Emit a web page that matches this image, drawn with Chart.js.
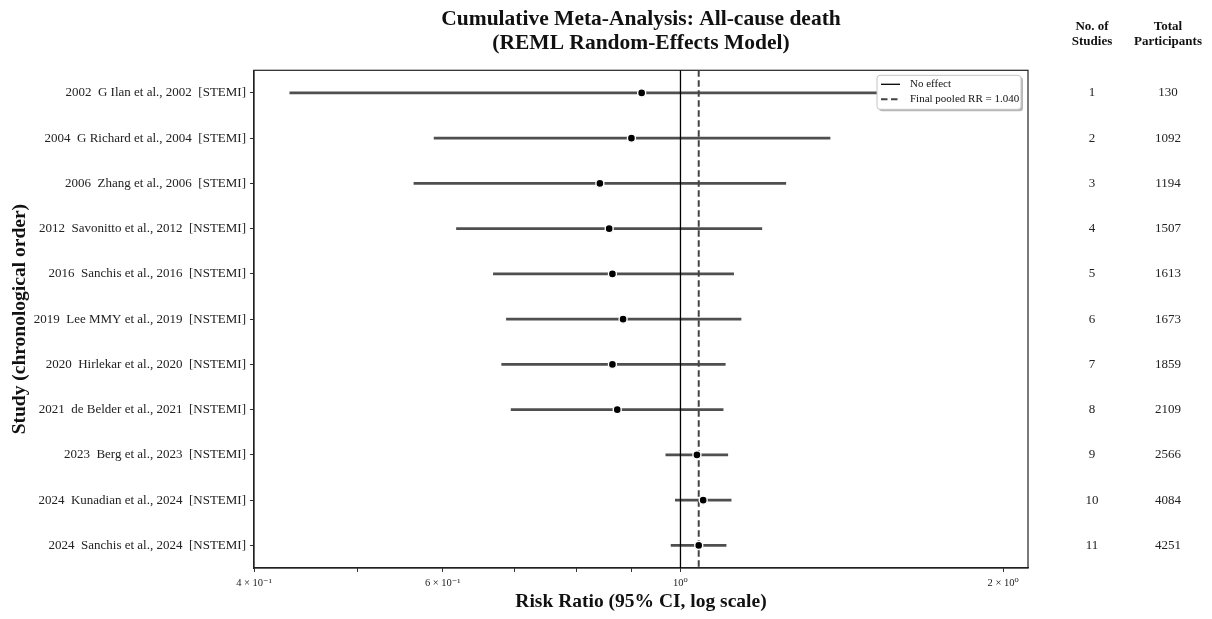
<!DOCTYPE html>
<html>
<head>
<meta charset="utf-8">
<title>Cumulative Meta-Analysis</title>
<script src="https://cdn.jsdelivr.net/npm/chart.js@4.4.1/dist/chart.umd.min.js"></script>
<style>
  html, body { margin: 0; padding: 0; background: #fff; }
</style>
</head>
<body>
<canvas id="forest" width="1212" height="619"></canvas>
<script>
// studies in chronological order, each row pools every study up to it
const studyLabels = [
  '2002  G Ilan et al., 2002  [STEMI]',
  '2004  G Richard et al., 2004  [STEMI]',
  '2006  Zhang et al., 2006  [STEMI]',
  '2012  Savonitto et al., 2012  [NSTEMI]',
  '2016  Sanchis et al., 2016  [NSTEMI]',
  '2019  Lee MMY et al., 2019  [NSTEMI]',
  '2020  Hirlekar et al., 2020  [NSTEMI]',
  '2021  de Belder et al., 2021  [NSTEMI]',
  '2023  Berg et al., 2023  [NSTEMI]',
  '2024  Kunadian et al., 2024  [NSTEMI]',
  '2024  Sanchis et al., 2024  [NSTEMI]'
];
const pooledRR = [0.920, 0.900, 0.841, 0.858, 0.864, 0.884, 0.864, 0.873, 1.036, 1.050, 1.040];
const ciLower  = [0.432, 0.589, 0.564, 0.618, 0.669, 0.688, 0.681, 0.695, 0.969, 0.989, 0.980];
const ciUpper  = [1.920, 1.379, 1.254, 1.191, 1.121, 1.139, 1.101, 1.096, 1.107, 1.115, 1.103];
const studyCounts = [1, 2, 3, 4, 5, 6, 7, 8, 9, 10, 11];
const totalParticipants = [130, 1092, 1194, 1507, 1613, 1673, 1859, 2109, 2566, 4084, 4251];
const finalRR = 1.040;

const xTickValues = [0.4, 0.5, 0.6, 0.7, 0.8, 0.9, 1, 2];
const xTickLabels = ['4 × 10⁻¹', '', '6 × 10⁻¹', '', '', '', '10⁰', '2 × 10⁰'];

const SERIF = "'Liberation Serif', 'DejaVu Serif', serif";
const rows = studyLabels.map((_, i) => i);

// closed box around the plot area
const frame = {
  id: 'frame',
  beforeDatasetsDraw(chart) {
    const { ctx, chartArea: a } = chart;
    ctx.save();
    ctx.strokeStyle = '#222';
    ctx.lineWidth = 1.2;
    ctx.strokeRect(a.left, a.top, a.right - a.left, a.bottom - a.top);
    ctx.restore();
  }
};

// boxed legend in the top right corner, built from the reference lines
const refLegend = {
  id: 'refLegend',
  afterDatasetsDraw(chart) {
    const { ctx, chartArea: a } = chart;
    const items = chart.data.datasets.filter(d => d.type === 'line');
    const w = 144, h = 34;
    const x = a.right - 7 - w, y = a.top + 5;
    ctx.save();
    ctx.fillStyle = 'rgba(0,0,0,0.28)';
    ctx.beginPath();
    ctx.roundRect(x + 2, y + 2, w, h, 3);
    ctx.fill();
    ctx.fillStyle = '#fff';
    ctx.strokeStyle = '#c4c4c4';
    ctx.lineWidth = 1;
    ctx.beginPath();
    ctx.roundRect(x, y, w, h, 3);
    ctx.fill();
    ctx.stroke();
    ctx.font = '11px ' + SERIF;
    ctx.textBaseline = 'middle';
    items.forEach((d, i) => {
      const ly = y + 9 + i * 15;
      ctx.strokeStyle = d.borderColor;
      ctx.lineWidth = d.borderWidth;
      ctx.setLineDash(d.borderDash || []);
      ctx.beginPath();
      ctx.moveTo(x + 4, ly);
      ctx.lineTo(x + 23, ly);
      ctx.stroke();
      ctx.setLineDash([]);
      ctx.fillStyle = '#111';
      ctx.fillText(d.label, x + 33, ly);
    });
    ctx.restore();
  }
};

// study count and participant columns to the right of the plot
const sideTable = {
  id: 'sideTable',
  afterDraw(chart) {
    const { ctx, chartArea: a, scales } = chart;
    const col1 = a.right + 64, col2 = a.right + 140;
    ctx.save();
    ctx.textAlign = 'center';
    ctx.textBaseline = 'middle';
    ctx.fillStyle = '#111';
    ctx.font = 'bold 13px ' + SERIF;
    ctx.fillText('No. of', col1, 26.5);
    ctx.fillText('Studies', col1, 41.5);
    ctx.fillText('Total', col2, 26.5);
    ctx.fillText('Participants', col2, 41.5);
    ctx.font = '13px ' + SERIF;
    ctx.fillStyle = '#222';
    rows.forEach(i => {
      const py = scales.y.getPixelForValue(i);
      ctx.fillText(String(studyCounts[i]), col1, py);
      ctx.fillText(String(totalParticipants[i]), col2, py);
    });
    ctx.restore();
  }
};

new Chart(document.getElementById('forest'), {
  type: 'bar',
  data: {
    datasets: [
      {
        type: 'bar',
        label: '95% CI',
        indexAxis: 'y',
        data: rows.map(i => ({ y: i, x: [ciLower[i], ciUpper[i]] })),
        backgroundColor: '#4f4f4f',
        barThickness: 2,
        borderWidth: 0,
        borderSkipped: false,
        grouped: false,
        order: 3
      },
      {
        type: 'line',
        label: 'No effect',
        data: [{ x: 1, y: -0.5 }, { x: 1, y: 10.5 }],
        borderColor: '#000',
        borderWidth: 1.3,
        pointRadius: 0,
        order: 2
      },
      {
        type: 'line',
        label: 'Final pooled RR = ' + finalRR.toFixed(3),
        data: [{ x: finalRR, y: -0.5 }, { x: finalRR, y: 10.5 }],
        borderColor: '#444',
        borderWidth: 2,
        borderDash: [6.5, 3.5],
        pointRadius: 0,
        order: 2
      },
      {
        type: 'scatter',
        label: 'Cumulative RR',
        data: rows.map(i => ({ x: pooledRR[i], y: i })),
        backgroundColor: '#000',
        borderColor: '#fff',
        borderWidth: 1.4,
        pointRadius: 4,
        order: 1
      }
    ]
  },
  options: {
    responsive: false,
    animation: false,
    layout: { padding: { left: 0, top: 0, right: 184, bottom: 0 } },
    plugins: {
      legend: { display: false },
      tooltip: { enabled: false },
      title: {
        display: true,
        fullSize: false,
        text: ['Cumulative Meta-Analysis: All-cause death', '(REML Random-Effects Model)'],
        color: '#111',
        font: { family: SERIF, size: 21.5, weight: 'bold', lineHeight: 1.1 },
        padding: { top: 8, bottom: 15 }
      }
    },
    scales: {
      x: {
        type: 'logarithmic',
        min: 0.4,
        max: 2.11,
        offset: false,
        afterBuildTicks: s => { s.ticks = xTickValues.map(v => ({ value: v })); },
        afterFit: s => { s.height = 51; },
        ticks: {
          autoSkip: false,
          maxRotation: 0,
          padding: 5,
          color: '#222',
          font: { family: SERIF, size: 10.5 },
          callback: (v, i) => xTickLabels[i]
        },
        grid: { offset: false, drawOnChartArea: false, drawTicks: true, tickLength: 4, tickColor: '#333' },
        border: { color: '#222', width: 1.2 },
        title: {
          display: true,
          text: 'Risk Ratio (95% CI, log scale)',
          color: '#111',
          font: { family: SERIF, size: 19.5, weight: 'bold' },
          padding: { top: 0, bottom: 5 }
        }
      },
      y: {
        type: 'linear',
        min: -0.5,
        max: 10.5,
        reverse: true,
        offset: false,
        beginAtZero: false,
        afterBuildTicks: s => { s.ticks = rows.map(i => ({ value: i })); },
        afterFit: s => { s.width = 254; },
        ticks: {
          autoSkip: false,
          padding: 4,
          color: '#222',
          font: { family: SERIF, size: 13 },
          callback: v => studyLabels[v]
        },
        grid: { offset: false, drawOnChartArea: false, drawTicks: true, tickLength: 4, tickColor: '#333' },
        border: { color: '#222', width: 1.2 },
        title: {
          display: true,
          text: 'Study (chronological order)',
          color: '#111',
          font: { family: SERIF, size: 19.5, weight: 'bold' },
          padding: { top: 8, bottom: 0 }
        }
      }
    }
  },
  plugins: [frame, refLegend, sideTable]
});
</script>
</body>
</html>
